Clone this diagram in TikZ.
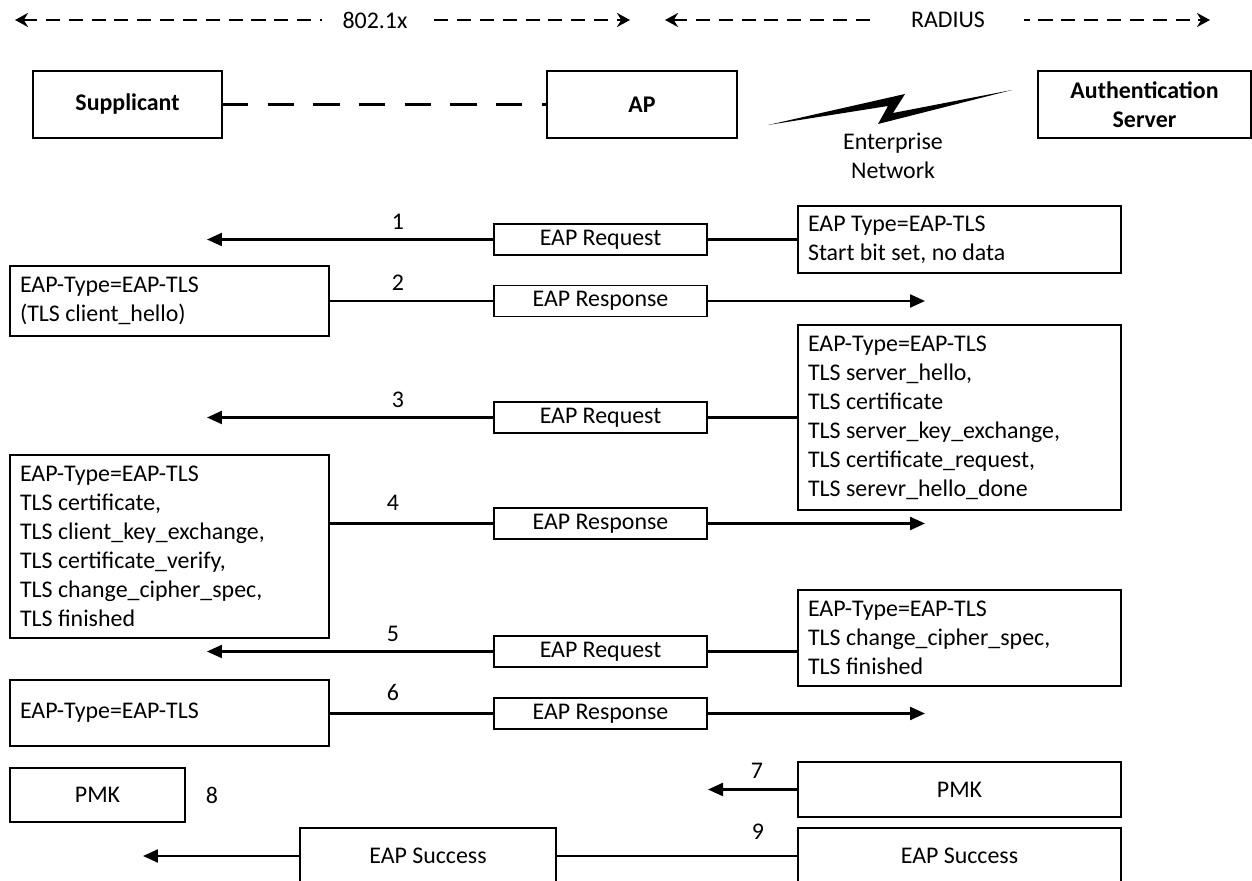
\documentclass[tikz,border=0pt]{standalone}
\usepackage{fontspec}
\setmainfont{Carlito}
\usetikzlibrary{arrows.meta}
\newcommand{\msgfont}{\fontsize{13.6}{16.5}\selectfont}
\tikzset{
  box/.style={draw,line width=0.8pt,outer sep=0pt,align=center},
  msgbox/.style={box,minimum width=4.26cm,minimum height=0.62cm},
  textbox/.style={draw,line width=0.8pt,outer sep=0pt,align=flush left,text width=#1,inner xsep=0.2cm},
  wire/.style={line width=1.3pt},
  msg/.style={wire,-{Triangle[length=0.3cm,width=0.26cm]}},
  span/.style={line width=1.3pt,dash pattern=on 8pt off 5pt,{Stealth[length=0.26cm,width=0.28cm]}-{Stealth[length=0.26cm,width=0.28cm]}}
}
\begin{document}
\begin{tikzpicture}[x=0.02cm,y=-0.02cm,every node/.style={font=\msgfont}]
\useasboundingbox (0,0) rectangle (1252,881);

% protocol spans
\coordinate (L1) at (15,20);
\coordinate (L2) at (630,20);
\coordinate (R1) at (665,20);
\coordinate (R2) at (1210,20);
\draw[span] (L1) -- (L2);
\draw[span] (R1) -- (R2);
\node (dot1x) at (375,20) [fill=white,inner xsep=12pt] {802.1x};
\node (radius) at (948,20) [fill=white,inner xsep=22pt] {RADIUS};

% parties
\node (sup) at (127.5,104.5) [box,minimum width=3.78cm,minimum height=1.34cm,font=\msgfont\bfseries] {Supplicant};
\node (ap) at (642,104.5) [box,minimum width=3.8cm,minimum height=1.34cm,font=\msgfont\bfseries] {AP};
\node (as) at (1144.5,104.5) [box,minimum width=4.26cm,minimum height=1.34cm,font=\msgfont\bfseries] {Authentication\\Server};
\draw[line width=1.5pt,dash pattern=on 15pt off 11pt] (sup) -- (ap);

\fill (768,125) -- (905,94) -- (893,113) -- (1012,90) -- (878,124) -- (888,106) -- cycle;
\node (net) at (893,156) [align=center] {Enterprise\\Network};

% 1
\node (r1) at (959.5,239.5) [textbox=6.06cm,minimum height=1.34cm] {EAP Type=EAP-TLS\\Start bit set, no data};
\node (m1) at (600.5,239.5) [msgbox] {EAP Request};
\coordinate (e1) at (207,239.5);
\draw[wire] (r1.west |- m1) -- (m1);
\draw[msg] (m1) -- (e1);
\node (n1) at (398,222) {1};

% 2
\node (l2) at (169.5,301) [textbox=5.98cm,minimum height=1.4cm] {EAP-Type=EAP-TLS\\(TLS client\_hello)};
\node (m2) at (600.5,301) [msgbox] {EAP Response};
\coordinate (e2) at (925,301);
\draw[wire] (l2.east |- m2) -- (m2);
\draw[msg] (m2) -- (e2);
\node (n2) at (398,283) {2};

% 3
\node (r3) at (959.5,417.5) [textbox=6.06cm,minimum height=3.7cm] {EAP-Type=EAP-TLS\\TLS server\_hello,\\TLS certificate\\TLS server\_key\_exchange,\\TLS certificate\_request,\\TLS serevr\_hello\_done};
\node (m3) at (600.5,417.5) [msgbox] {EAP Request};
\coordinate (e3) at (207,417.5);
\draw[wire] (r3.west |- m3) -- (m3);
\draw[msg] (m3) -- (e3);
\node (n3) at (398,400) {3};

% 4
\node (l4) at (169.5,546.5) [textbox=5.98cm,minimum height=3.66cm] {EAP-Type=EAP-TLS\\TLS certificate,\\TLS client\_key\_exchange,\\TLS certificate\_verify,\\TLS change\_cipher\_spec,\\TLS finished};
\node (m4) at (600.5,523.5) [msgbox] {EAP Response};
\coordinate (e4) at (925,523.5);
\draw[wire] (l4.east |- m4) -- (m4);
\draw[msg] (m4) -- (e4);
\node (n4) at (393,503) {4};

% 5
\node (r5) at (959.5,638) [textbox=6.06cm,minimum height=1.92cm] {EAP-Type=EAP-TLS\\TLS change\_cipher\_spec,\\TLS finished};
\node (m5) at (600.5,651.5) [msgbox] {EAP Request};
\coordinate (e5) at (207,651.5);
\draw[wire] (r5.west |- m5) -- (m5);
\draw[msg] (m5) -- (e5);
\node (n5) at (393,634) {5};

% 6
\node (l6) at (169.5,713) [textbox=5.98cm,minimum height=1.32cm] {EAP-Type=EAP-TLS};
\node (m6) at (600.5,713.5) [msgbox] {EAP Response};
\coordinate (e6) at (925,713.5);
\draw[wire] (l6.east |- m6) -- (m6);
\draw[msg] (m6) -- (e6);
\node (n6) at (393,693) {6};

% 7, 8
\node (r7) at (959.5,789.5) [box,minimum width=6.46cm,minimum height=1.1cm] {PMK};
\coordinate (e7) at (708,789.5);
\draw[msg] (r7) -- (e7);
\node (n7) at (757,771) {7};
\node (l8) at (97.5,795) [box,minimum width=3.5cm,minimum height=1.08cm] {PMK};
\node (n8) at (212,795) {8};

% 9
\node (r9) at (959.5,856) [box,minimum width=6.46cm,minimum height=1.12cm] {EAP Success};
\node (s9) at (428,856) [box,minimum width=5.12cm,minimum height=1.12cm] {EAP Success};
\coordinate (e9) at (143,856);
\draw[wire] (r9) -- (s9);
\draw[msg] (s9) -- (e9);
\node (n9) at (758,832) {9};

\end{tikzpicture}
\end{document}
